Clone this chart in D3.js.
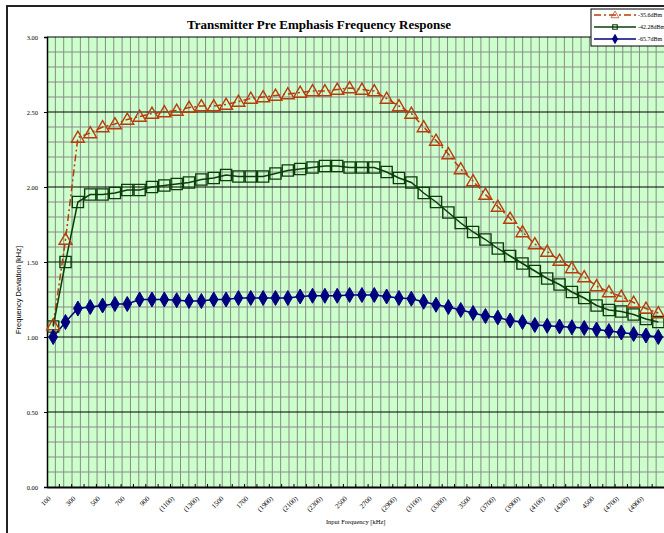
<!DOCTYPE html>
<html>
<head>
  <meta charset="utf-8">
  <title>Transmitter Pre Emphasis Frequency Response</title>
  <script src="https://d3js.org/d3.v7.min.js"></script>
  <style>
    body { margin: 0; background: #fff; }
    svg { display: block; font-family: 'Liberation Serif', 'Times New Roman', serif; }
    .tick-label { font-size: 6.5px; fill: #000; }
  </style>
</head>
<body>
  <div id="chart"></div>
  <script>
    // Input frequency categories
    var freqs = [100, 200, 300, 400, 500, 600, 700, 800, 900, 1000,
                 1100, 1200, 1300, 1400, 1500, 1600, 1700, 1800, 1900, 2000,
                 2100, 2200, 2300, 2400, 2500, 2600, 2700, 2800, 2900, 3000,
                 3100, 3200, 3300, 3400, 3500, 3600, 3700, 3800, 3900, 4000,
                 4100, 4200, 4300, 4400, 4500, 4600, 4700, 4800, 4900, 5000];

    // tick labels as printed on the axis (every other category)
    var xLabels = ["100", "300", "500", "700", "900", "(1100)", "(1300)", "1500", "1700",
                   "(1900)", "(2100)", "(2300)", "2500", "2700", "(2900)", "(3100)", "(3300)",
                   "3500", "(3700)", "(3900)", "(4100)", "(4300)", "4500", "(4700)", "(4900)"];

    var yTicks = [0, 0.5, 1.0, 1.5, 2.0, 2.5, 3.0];

    // Frequency deviation [kHz] per input level
    var dev356 = [1.08, 1.65, 2.33, 2.36, 2.40, 2.42, 2.45, 2.47, 2.49, 2.50,
                  2.51, 2.53, 2.54, 2.54, 2.55, 2.57, 2.59, 2.60, 2.61, 2.62,
                  2.63, 2.64, 2.64, 2.65, 2.66, 2.65, 2.64, 2.59, 2.54, 2.49,
                  2.40, 2.31, 2.22, 2.12, 2.04, 1.95, 1.87, 1.79, 1.70, 1.62,
                  1.57, 1.51, 1.46, 1.40, 1.34, 1.30, 1.27, 1.23, 1.19, 1.16];

    var dev4228 = [1.07, 1.50, 1.90, 1.95, 1.95, 1.96, 1.98, 1.98, 2.00, 2.01,
                   2.02, 2.03, 2.05, 2.06, 2.08, 2.07, 2.07, 2.07, 2.09, 2.11,
                   2.12, 2.13, 2.14, 2.14, 2.13, 2.13, 2.13, 2.10, 2.06, 2.03,
                   1.96, 1.90, 1.83, 1.76, 1.70, 1.65, 1.59, 1.54, 1.49, 1.44,
                   1.39, 1.35, 1.30, 1.26, 1.21, 1.18, 1.17, 1.15, 1.12, 1.10];

    var dev657 = [1.00, 1.10, 1.19, 1.20, 1.21, 1.22, 1.22, 1.25, 1.25, 1.25,
                  1.245, 1.24, 1.24, 1.25, 1.25, 1.26, 1.26, 1.26, 1.26, 1.26,
                  1.27, 1.275, 1.275, 1.275, 1.28, 1.28, 1.28, 1.27, 1.26, 1.255,
                  1.235, 1.215, 1.20, 1.18, 1.16, 1.14, 1.13, 1.11, 1.10, 1.08,
                  1.075, 1.07, 1.065, 1.06, 1.05, 1.04, 1.03, 1.02, 1.01, 1.00];

    var seriesNames = ["-35.6dBm", "-42.28dBm", "-65.7dBm"];

    var W = 664, H = 533;
    var plot = {left: 47, top: 37, right: 664.5, bottom: 487};

    var svg = d3.select("#chart").append("svg")
      .attr("width", W)
      .attr("height", H);

    // chart frame
    svg.append("rect")
      .attr("x", 7).attr("y", 6)
      .attr("width", 700).attr("height", 560)
      .attr("fill", "#fff")
      .attr("stroke", "#222")
      .attr("stroke-width", 2);

    var x = d3.scaleBand()
      .domain(freqs)
      .range([plot.left, plot.right]);

    var y = d3.scaleLinear()
      .domain([0, 3])
      .range([plot.bottom, plot.top]);

    // plot background
    svg.append("rect")
      .attr("x", plot.left).attr("y", plot.top)
      .attr("width", plot.right - plot.left)
      .attr("height", plot.bottom - plot.top)
      .attr("fill", "#ccffcc");

    // vertical grid (fine, about 2/3 of a category)
    var gx = d3.scaleLinear().domain([0, 74]).range([plot.left, plot.right]);
    svg.append("g").selectAll("line")
      .data(d3.range(1, 75))
      .enter().append("line")
        .attr("x1", function(d) { return gx(d); })
        .attr("x2", function(d) { return gx(d); })
        .attr("y1", plot.top).attr("y2", plot.bottom)
        .attr("stroke", "#8a8a8a")
        .attr("stroke-width", 1);

    // minor horizontal grid
    svg.append("g").selectAll("line")
      .data(d3.range(1, 30).filter(function(d) { return d % 5 !== 0; }))
      .enter().append("line")
        .attr("x1", plot.left).attr("x2", plot.right)
        .attr("y1", function(d) { return y(d / 10); })
        .attr("y2", function(d) { return y(d / 10); })
        .attr("stroke", "#8a8a8a")
        .attr("stroke-width", 1);

    // major horizontal grid
    svg.append("g").selectAll("line")
      .data(yTicks.slice(1))
      .enter().append("line")
        .attr("x1", plot.left).attr("x2", plot.right)
        .attr("y1", function(d) { return y(d); })
        .attr("y2", function(d) { return y(d); })
        .attr("stroke", "#000")
        .attr("stroke-width", 1);

    // axes
    var yAxis = d3.axisLeft(y).tickValues(yTicks).tickFormat(d3.format(".2f")).tickSize(3).tickPadding(6);
    var gy = svg.append("g").attr("transform", "translate(" + plot.left + ",0)").call(yAxis);
    gy.select(".domain").attr("stroke", "#000").attr("stroke-width", 1.5);
    gy.selectAll("text").attr("class", "tick-label").attr("font-family", "Liberation Serif");

    var xAxis = d3.axisBottom(x).tickSize(0).tickFormat("");
    var gxA = svg.append("g").attr("transform", "translate(0," + plot.bottom + ")").call(xAxis);
    gxA.select(".domain").attr("stroke", "#000").attr("stroke-width", 2);

    // inside tick marks at category boundaries
    svg.append("g").selectAll("line")
      .data(freqs.slice(1))
      .enter().append("line")
        .attr("x1", function(d) { return x(d); })
        .attr("x2", function(d) { return x(d); })
        .attr("y1", plot.bottom - 3).attr("y2", plot.bottom)
        .attr("stroke", "#000").attr("stroke-width", 1);

    // rotated category labels
    svg.append("g").selectAll("text")
      .data(xLabels)
      .enter().append("text")
        .attr("font-size", 7)
        .attr("text-anchor", "end")
        .attr("transform", function(d, i) {
          var cx = x(freqs[i * 2]) + x.bandwidth() / 2;
          return "translate(" + (cx - 2) + "," + (plot.bottom + 12) + ") rotate(-45)";
        })
        .text(function(d) { return d; });

    // axis titles
    svg.append("text")
      .attr("x", (plot.left + plot.right) / 2)
      .attr("y", 524)
      .attr("text-anchor", "middle")
      .attr("font-size", 6.5)
      .text("Input Frequency [kHz]");

    svg.append("text")
      .attr("transform", "translate(21,290) rotate(-90)")
      .attr("text-anchor", "middle")
      .attr("font-family", "'Liberation Sans', Arial, sans-serif")
      .attr("font-size", 7.5)
      .text("Frequency Deviation  [kHz]");

    svg.append("text")
      .attr("x", 319)
      .attr("y", 29)
      .attr("text-anchor", "middle")
      .attr("font-weight", "bold")
      .attr("font-size", 13)
      .text("Transmitter Pre Emphasis Frequency Response");

    var cx = function(d, i) { return x(freqs[i]) + x.bandwidth() / 2; };
    var line = d3.line().x(cx).y(function(d) { return y(d); });

    var red = "#b83c0c", green = "#0b3d0b", blue = "#000080";

    // series lines
    svg.append("path").datum(dev356)
      .attr("d", line).attr("fill", "none")
      .attr("stroke", red).attr("stroke-width", 1.5)
      .attr("stroke-dasharray", "7,3,2,3");
    svg.append("path").datum(dev4228)
      .attr("d", line).attr("fill", "none")
      .attr("stroke", green).attr("stroke-width", 1.5);
    svg.append("path").datum(dev657)
      .attr("d", line).attr("fill", "none")
      .attr("stroke", blue).attr("stroke-width", 1.5);

    var tri = d3.symbol().type(d3.symbolTriangle).size(72);
    var sq = d3.symbol().type(d3.symbolSquare).size(125);
    var dia = d3.symbol().type(d3.symbolDiamond).size(65);

    // markers
    svg.append("g").selectAll("path")
      .data(dev4228).enter().append("path")
        .attr("d", sq)
        .attr("transform", function(d, i) { return "translate(" + cx(d, i) + "," + y(d) + ")"; })
        .attr("fill", "none").attr("stroke", green).attr("stroke-width", 1.4);
    svg.append("g").selectAll("path")
      .data(dev356).enter().append("path")
        .attr("d", tri)
        .attr("transform", function(d, i) { return "translate(" + cx(d, i) + "," + (y(d) + 1) + ")"; })
        .attr("fill", "none").attr("stroke", red).attr("stroke-width", 1.4);
    svg.append("g").selectAll("path")
      .data(dev657).enter().append("path")
        .attr("d", dia)
        .attr("transform", function(d, i) { return "translate(" + cx(d, i) + "," + y(d) + ")"; })
        .attr("fill", blue).attr("stroke", blue);

    // legend
    var lg = svg.append("g").attr("transform", "translate(591,9)");
    lg.append("rect")
      .attr("width", 80).attr("height", 37)
      .attr("fill", "#fff").attr("stroke", "#000").attr("stroke-width", 1);
    var legendItems = [
      {name: seriesNames[0], color: red, sym: tri, fill: "none", dash: "7,3,2,3"},
      {name: seriesNames[1], color: green, sym: d3.symbol().type(d3.symbolSquare).size(20), fill: "none", dash: null},
      {name: seriesNames[2], color: blue, sym: d3.symbol().type(d3.symbolDiamond).size(20), fill: blue, dash: null}
    ];
    var li = lg.selectAll("g.item").data(legendItems).enter().append("g")
      .attr("class", "item")
      .attr("transform", function(d, i) { return "translate(0," + (6 + i * 12) + ")"; });
    li.append("line")
      .attr("x1", 3).attr("x2", 45).attr("y1", 0).attr("y2", 0)
      .attr("stroke", function(d) { return d.color; })
      .attr("stroke-width", 1.5)
      .attr("stroke-dasharray", function(d) { return d.dash; });
    li.append("path")
      .attr("d", function(d) { return d.sym(); })
      .attr("transform", function(d, i) { return "translate(24," + (i === 0 ? 0.5 : 0) + ")" + (i === 0 ? " scale(0.6)" : ""); })
      .attr("fill", function(d) { return d.fill; })
      .attr("stroke", function(d) { return d.color; })
      .attr("stroke-width", 1.2);
    li.append("text")
      .attr("x", 47).attr("y", 2.2)
      .attr("font-size", 6)
      .text(function(d) { return d.name; });
  </script>
</body>
</html>
